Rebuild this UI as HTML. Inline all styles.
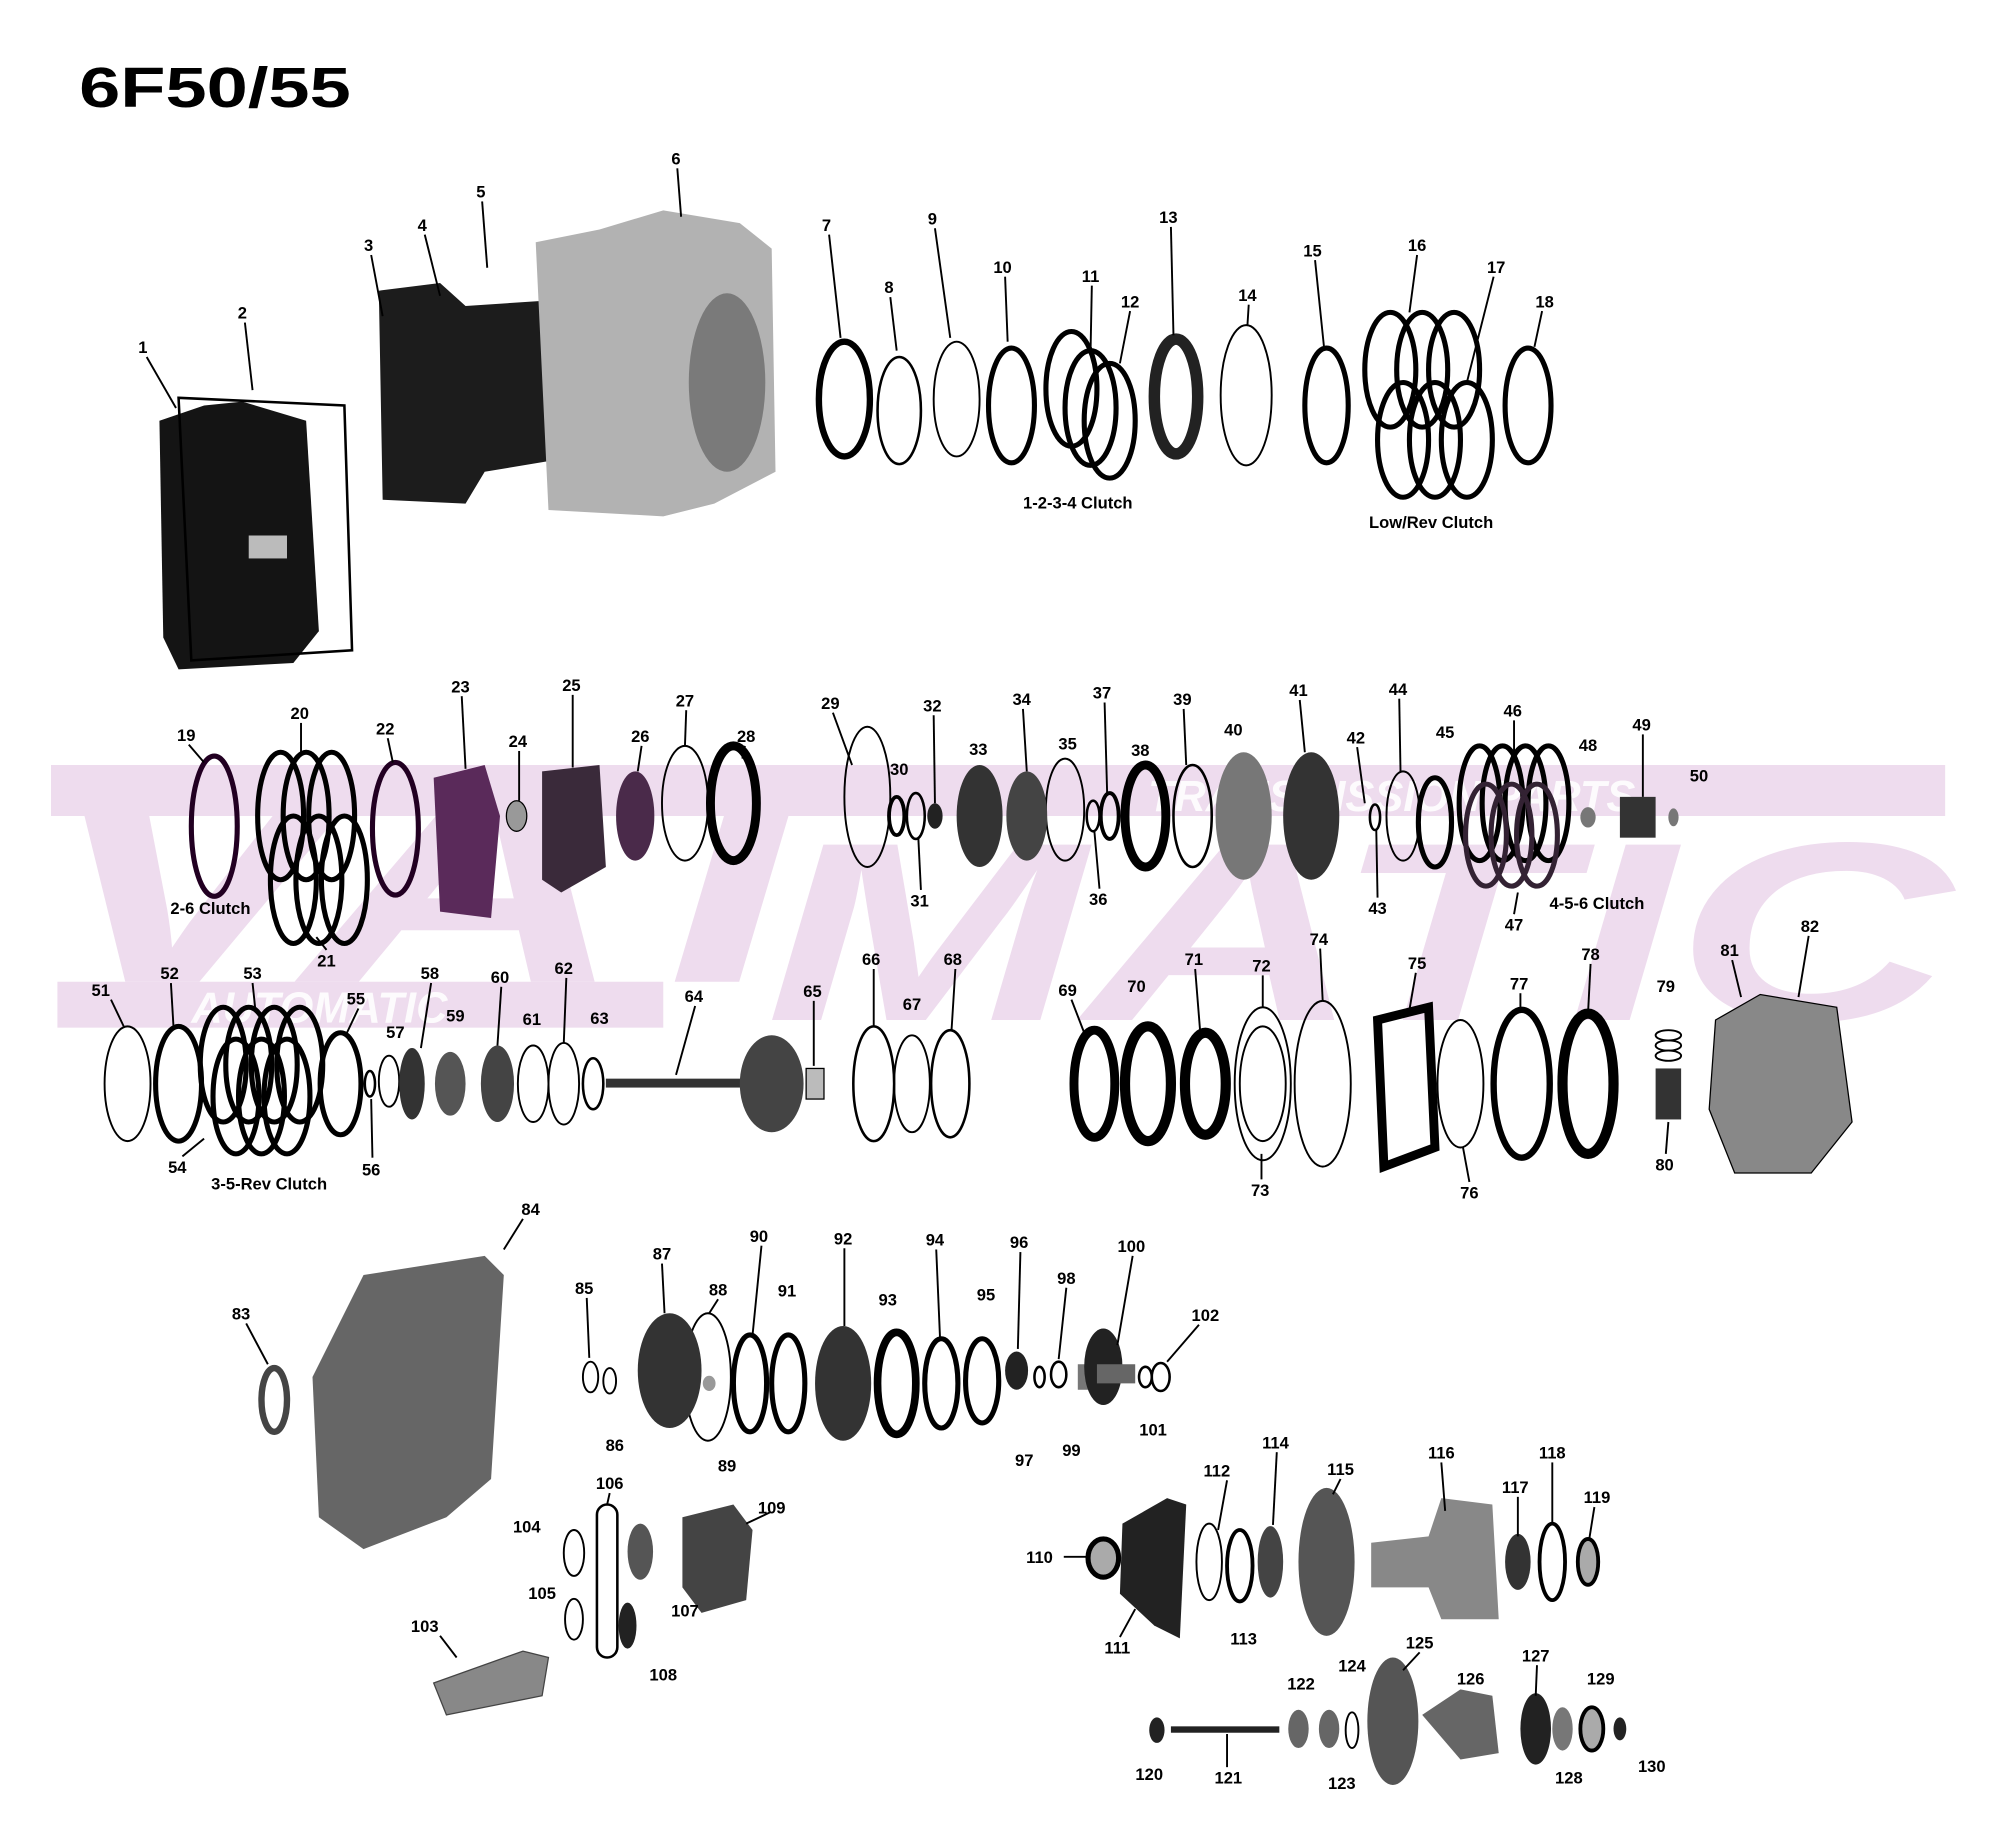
<!DOCTYPE html>
<html><head><meta charset="utf-8"><style>
html,body{margin:0;padding:0;background:#fff;}
svg{display:block;}
text{font-family:"Liberation Sans",Arial,sans-serif;font-weight:bold;}
.l{font-size:13px;fill:#000;text-anchor:middle;}
.r{fill:none;stroke:#000;}
</style></head><body>
<svg width="2000" height="1836" viewBox="0 0 1568 1440" preserveAspectRatio="none" xmlns="http://www.w3.org/2000/svg">
<rect width="1568" height="1440" fill="#fff"/>
<!-- watermark -->
<g fill="#eedcee">
<rect x="40" y="600" width="1485" height="40"/>
<rect x="45" y="770" width="475" height="36"/>
<text x="30" y="770" font-size="230" font-style="italic" textLength="650" lengthAdjust="spacingAndGlyphs">VAT</text>
<text x="600" y="800" font-size="200" font-style="italic" textLength="930" lengthAdjust="spacingAndGlyphs">MATIC</text>
</g>
<g fill="#fff" opacity="0.9"><text x="900" y="636" font-size="34" font-style="italic">TRANSMISSION PARTS</text>
<text x="150" y="802" font-size="34" font-style="italic">AUTOMATIC</text></g>

<text x="62" y="84" font-size="44" fill="#000" textLength="213" lengthAdjust="spacingAndGlyphs">6F50/55</text>

<!-- Row 1 parts -->
<polygon points="125,330 160,318 190,315 240,330 250,495 230,520 140,525 128,500" fill="#141414"/>
<rect x="195" y="420" width="30" height="18" fill="#bbb"/>
<path d="M140,312 L270,318 L276,510 L150,518 Z" fill="none" stroke="#000" stroke-width="2"/>
<polygon points="297,228 345,222 365,240 440,235 440,360 380,370 365,395 300,392" fill="#1c1c1c"/>
<polygon points="420,190 470,180 520,165 580,175 605,195 608,370 560,395 520,405 430,400" fill="#b2b2b2"/>
<ellipse cx="570" cy="300" rx="30" ry="70" fill="#7a7a7a"/>
<g class="r">
<ellipse cx="662" cy="313" rx="20" ry="45" stroke-width="5"/>
<ellipse cx="705" cy="322" rx="17" ry="42" stroke-width="2"/>
<ellipse cx="750" cy="313" rx="18" ry="45" stroke-width="1.5"/>
<ellipse cx="793" cy="318" rx="18" ry="45" stroke-width="4"/>
<ellipse cx="840" cy="305" rx="20" ry="45" stroke-width="4"/>
<ellipse cx="855" cy="320" rx="20" ry="45" stroke-width="4"/>
<ellipse cx="870" cy="330" rx="20" ry="45" stroke-width="4"/>
<ellipse cx="922" cy="311" rx="17" ry="45" stroke-width="9" stroke="#222"/>
<ellipse cx="977" cy="310" rx="20" ry="55" stroke-width="1.5"/>
<ellipse cx="1040" cy="318" rx="17" ry="45" stroke-width="4"/>
<ellipse cx="1090" cy="290" rx="20" ry="45" stroke-width="4"/>
<ellipse cx="1115" cy="290" rx="20" ry="45" stroke-width="4"/>
<ellipse cx="1140" cy="290" rx="20" ry="45" stroke-width="4"/>
<ellipse cx="1100" cy="345" rx="20" ry="45" stroke-width="4"/>
<ellipse cx="1125" cy="345" rx="20" ry="45" stroke-width="4"/>
<ellipse cx="1150" cy="345" rx="20" ry="45" stroke-width="4"/>
<ellipse cx="1198" cy="318" rx="18" ry="45" stroke-width="4"/>
</g>
<text x="845" y="399" font-size="13" text-anchor="middle">1-2-3-4 Clutch</text>
<text x="1122" y="414" font-size="13" text-anchor="middle">Low/Rev Clutch</text>

<!-- Row 2 -->
<g class="r">
<ellipse cx="168" cy="648" rx="18" ry="55" stroke-width="4" stroke="#202"/>
<ellipse cx="220" cy="640" rx="18" ry="50" stroke-width="4"/>
<ellipse cx="240" cy="640" rx="18" ry="50" stroke-width="4"/>
<ellipse cx="260" cy="640" rx="18" ry="50" stroke-width="4"/>
<ellipse cx="230" cy="690" rx="18" ry="50" stroke-width="4"/>
<ellipse cx="250" cy="690" rx="18" ry="50" stroke-width="4"/>
<ellipse cx="270" cy="690" rx="18" ry="50" stroke-width="4"/>
<ellipse cx="310" cy="650" rx="18" ry="52" stroke-width="4" stroke="#202"/>
<ellipse cx="537" cy="630" rx="18" ry="45" stroke-width="1.5"/>
<ellipse cx="575" cy="630" rx="18" ry="45" stroke-width="7"/>
<ellipse cx="680" cy="625" rx="18" ry="55" stroke-width="1.5"/>
<ellipse cx="703" cy="640" rx="6" ry="15" stroke-width="3"/>
<ellipse cx="718" cy="640" rx="7" ry="18" stroke-width="2"/>
<ellipse cx="835" cy="635" rx="15" ry="40" stroke-width="1.5"/>
<ellipse cx="857" cy="640" rx="5" ry="12" stroke-width="2"/>
<ellipse cx="870" cy="640" rx="7" ry="18" stroke-width="3"/>
<ellipse cx="898" cy="640" rx="16" ry="40" stroke-width="7"/>
<ellipse cx="935" cy="640" rx="15" ry="40" stroke-width="2"/>
<ellipse cx="1078" cy="641" rx="4" ry="10" stroke-width="2"/>
<ellipse cx="1100" cy="640" rx="13" ry="35" stroke-width="1.5"/>
<ellipse cx="1125" cy="645" rx="13" ry="35" stroke-width="4"/>
<ellipse cx="1160" cy="630" rx="16" ry="45" stroke-width="4"/>
<ellipse cx="1178" cy="630" rx="16" ry="45" stroke-width="4"/>
<ellipse cx="1196" cy="630" rx="16" ry="45" stroke-width="4"/>
<ellipse cx="1214" cy="630" rx="16" ry="45" stroke-width="4"/>
<ellipse cx="1165" cy="655" rx="16" ry="40" stroke-width="4" stroke="#323"/>
<ellipse cx="1185" cy="655" rx="16" ry="40" stroke-width="4" stroke="#323"/>
<ellipse cx="1205" cy="655" rx="16" ry="40" stroke-width="4" stroke="#323"/>
</g>
<path d="M340,610 L380,600 L392,640 L385,720 L345,715 Z" fill="#5a2a5a"/>
<ellipse cx="405" cy="640" rx="8" ry="12" fill="#999" stroke="#000"/>
<path d="M425,605 L470,600 L475,680 L440,700 L425,690 Z" fill="#3a2a3a"/>
<ellipse cx="498" cy="640" rx="15" ry="35" fill="#4a2a4a"/>
<ellipse cx="733" cy="640" rx="6" ry="10" fill="#222"/>
<ellipse cx="768" cy="640" rx="18" ry="40" fill="#333"/>
<ellipse cx="805" cy="640" rx="16" ry="35" fill="#444"/>
<ellipse cx="975" cy="640" rx="22" ry="50" fill="#777"/>
<ellipse cx="1028" cy="640" rx="22" ry="50" fill="#333"/>
<ellipse cx="1245" cy="641" rx="6" ry="8" fill="#777"/>
<rect x="1270" y="625" width="28" height="32" fill="#333"/>
<ellipse cx="1312" cy="641" rx="4" ry="7" fill="#777"/>
<text x="165" y="717" font-size="13" text-anchor="middle">2-6 Clutch</text>
<text x="1252" y="713" font-size="13" text-anchor="middle">4-5-6 Clutch</text>

<!-- Row 3 -->
<g class="r">
<ellipse cx="100" cy="850" rx="18" ry="45" stroke-width="1.5"/>
<ellipse cx="140" cy="850" rx="18" ry="45" stroke-width="4"/>
<ellipse cx="175" cy="835" rx="18" ry="45" stroke-width="4"/>
<ellipse cx="195" cy="835" rx="18" ry="45" stroke-width="4"/>
<ellipse cx="215" cy="835" rx="18" ry="45" stroke-width="4"/>
<ellipse cx="235" cy="835" rx="18" ry="45" stroke-width="4"/>
<ellipse cx="185" cy="860" rx="18" ry="45" stroke-width="4"/>
<ellipse cx="205" cy="860" rx="18" ry="45" stroke-width="4"/>
<ellipse cx="225" cy="860" rx="18" ry="45" stroke-width="4"/>
<ellipse cx="267" cy="850" rx="16" ry="40" stroke-width="4"/>
<ellipse cx="290" cy="850" rx="4" ry="10" stroke-width="2"/>
<ellipse cx="305" cy="848" rx="8" ry="20" stroke-width="1.5"/>
<ellipse cx="418" cy="850" rx="12" ry="30" stroke-width="1.5"/>
<ellipse cx="442" cy="850" rx="12" ry="32" stroke-width="1.5"/>
<ellipse cx="465" cy="850" rx="8" ry="20" stroke-width="2"/>
<ellipse cx="685" cy="850" rx="16" ry="45" stroke-width="2"/>
<ellipse cx="715" cy="850" rx="14" ry="38" stroke-width="1.5"/>
<ellipse cx="745" cy="850" rx="15" ry="42" stroke-width="2"/>
<ellipse cx="858" cy="850" rx="16" ry="42" stroke-width="7"/>
<ellipse cx="900" cy="850" rx="18" ry="45" stroke-width="8"/>
<ellipse cx="945" cy="850" rx="16" ry="40" stroke-width="8"/>
<ellipse cx="990" cy="850" rx="22" ry="60" stroke-width="1.5"/>
<ellipse cx="990" cy="850" rx="18" ry="45" stroke-width="1.5"/>
<ellipse cx="1037" cy="850" rx="22" ry="65" stroke-width="1.5"/>
<ellipse cx="1145" cy="850" rx="18" ry="50" stroke-width="1.5"/>
<ellipse cx="1193" cy="850" rx="22" ry="58" stroke-width="5"/>
<ellipse cx="1245" cy="850" rx="20" ry="55" stroke-width="8"/>
<ellipse cx="1308" cy="812" rx="10" ry="4" stroke-width="1.5"/>
<ellipse cx="1308" cy="820" rx="10" ry="4" stroke-width="1.5"/>
<ellipse cx="1308" cy="828" rx="10" ry="4" stroke-width="1.5"/>
</g>
<ellipse cx="323" cy="850" rx="10" ry="28" fill="#333"/>
<ellipse cx="353" cy="850" rx="12" ry="25" fill="#555"/>
<ellipse cx="390" cy="850" rx="13" ry="30" fill="#444"/>
<rect x="475" y="846" width="110" height="7" fill="#333"/>
<ellipse cx="605" cy="850" rx="25" ry="38" fill="#444"/>
<rect x="632" y="838" width="14" height="24" fill="#bbb" stroke="#000"/>
<path d="M1080,800 L1120,790 L1125,900 L1085,915 Z" fill="none" stroke="#000" stroke-width="7"/>
<rect x="1298" y="838" width="20" height="40" fill="#333"/>
<polygon points="1345,800 1380,780 1440,790 1452,880 1420,920 1360,920 1340,870" fill="#888" stroke="#000"/>
<text x="211" y="933" font-size="13" text-anchor="middle">3-5-Rev Clutch</text>

<!-- Row 4 -->
<ellipse cx="215" cy="1098" rx="10" ry="25" fill="none" stroke="#444" stroke-width="5"/>
<polygon points="285,1000 380,985 395,1000 385,1160 350,1190 285,1215 250,1190 245,1080" fill="#666"/>
<g class="r">
<ellipse cx="463" cy="1080" rx="6" ry="12" stroke-width="1.5"/>
<ellipse cx="478" cy="1083" rx="5" ry="10" stroke-width="1.5"/>
<ellipse cx="555" cy="1080" rx="18" ry="50" stroke-width="1.5"/>
<ellipse cx="588" cy="1085" rx="13" ry="38" stroke-width="4"/>
<ellipse cx="618" cy="1085" rx="13" ry="38" stroke-width="4"/>
<ellipse cx="703" cy="1085" rx="15" ry="40" stroke-width="6"/>
<ellipse cx="738" cy="1085" rx="13" ry="35" stroke-width="4"/>
<ellipse cx="770" cy="1083" rx="13" ry="33" stroke-width="4"/>
<ellipse cx="815" cy="1080" rx="4" ry="8" stroke-width="2"/>
<ellipse cx="830" cy="1078" rx="6" ry="10" stroke-width="2"/>
<ellipse cx="898" cy="1080" rx="5" ry="8" stroke-width="2"/>
<ellipse cx="910" cy="1080" rx="7" ry="11" stroke-width="2"/>
<ellipse cx="450" cy="1218" rx="8" ry="18" stroke-width="1.5"/>
<ellipse cx="450" cy="1270" rx="7" ry="16" stroke-width="1.5"/>
<rect x="468" y="1180" width="16" height="120" rx="8" stroke-width="2"/>
<ellipse cx="948" cy="1225" rx="10" ry="30" stroke-width="1.5"/>
<ellipse cx="972" cy="1228" rx="10" ry="28" stroke-width="3"/>
<ellipse cx="1217" cy="1225" rx="10" ry="30" stroke-width="3"/>
<ellipse cx="1060" cy="1357" rx="5" ry="14" stroke-width="1.5"/>
</g>
<ellipse cx="525" cy="1075" rx="25" ry="45" fill="#333"/>
<ellipse cx="556" cy="1085" rx="5" ry="6" fill="#999"/>
<ellipse cx="661" cy="1085" rx="22" ry="45" fill="#333"/>
<ellipse cx="797" cy="1075" rx="9" ry="15" fill="#222"/>
<rect x="845" y="1070" width="15" height="20" fill="#777"/>
<ellipse cx="865" cy="1072" rx="15" ry="30" fill="#222"/>
<rect x="860" y="1070" width="30" height="15" fill="#666"/>
<ellipse cx="502" cy="1217" rx="10" ry="22" fill="#555"/>
<ellipse cx="492" cy="1275" rx="7" ry="18" fill="#222"/>
<polygon points="535,1190 575,1180 590,1200 585,1255 550,1265 535,1245" fill="#444"/>
<polygon points="340,1320 410,1295 430,1300 425,1330 350,1345" fill="#888" stroke="#444"/>
<ellipse cx="865" cy="1222" rx="12" ry="15" fill="#aaa" stroke="#000" stroke-width="4"/>
<polygon points="880,1195 915,1175 930,1180 925,1285 905,1275 878,1250" fill="#222"/>
<ellipse cx="996" cy="1225" rx="10" ry="28" fill="#444"/>
<ellipse cx="1040" cy="1225" rx="22" ry="58" fill="#555"/>
<polygon points="1075,1210 1120,1205 1130,1175 1170,1180 1175,1270 1130,1270 1120,1245 1075,1245" fill="#888"/>
<ellipse cx="1190" cy="1225" rx="10" ry="22" fill="#333"/>
<ellipse cx="1245" cy="1225" rx="8" ry="18" fill="#aaa" stroke="#000" stroke-width="3"/>
<ellipse cx="907" cy="1357" rx="6" ry="10" fill="#222"/>
<rect x="918" y="1354" width="85" height="5" fill="#222"/>
<ellipse cx="1018" cy="1356" rx="8" ry="15" fill="#666"/>
<ellipse cx="1042" cy="1356" rx="8" ry="15" fill="#666"/>
<ellipse cx="1092" cy="1350" rx="20" ry="50" fill="#555"/>
<polygon points="1115,1345 1145,1325 1170,1330 1175,1375 1145,1380" fill="#666"/>
<ellipse cx="1204" cy="1356" rx="12" ry="28" fill="#222"/>
<ellipse cx="1225" cy="1356" rx="8" ry="17" fill="#777"/>
<ellipse cx="1248" cy="1356" rx="9" ry="17" fill="#aaa" stroke="#000" stroke-width="3"/>
<ellipse cx="1270" cy="1356" rx="5" ry="9" fill="#222"/>

<!-- leader lines -->
<g stroke="#000" stroke-width="1.5">
<line x1="115" y1="280" x2="138" y2="320"/><line x1="192" y1="253" x2="198" y2="306"/>
<line x1="291" y1="200" x2="300" y2="248"/><line x1="333" y1="184" x2="345" y2="232"/>
<line x1="378" y1="158" x2="382" y2="210"/><line x1="531" y1="132" x2="534" y2="170"/>
<line x1="650" y1="184" x2="659" y2="265"/><line x1="698" y1="233" x2="703" y2="275"/>
<line x1="733" y1="179" x2="745" y2="265"/><line x1="788" y1="217" x2="790" y2="268"/>
<line x1="856" y1="224" x2="855" y2="275"/><line x1="886" y1="244" x2="878" y2="285"/>
<line x1="918" y1="178" x2="920" y2="263"/><line x1="979" y1="239" x2="978" y2="255"/>
<line x1="1031" y1="204" x2="1038" y2="272"/><line x1="1111" y1="200" x2="1105" y2="245"/>
<line x1="1171" y1="217" x2="1150" y2="300"/><line x1="1209" y1="244" x2="1203" y2="272"/>
<line x1="148" y1="584" x2="160" y2="598"/><line x1="236" y1="567" x2="236" y2="590"/>
<line x1="256" y1="745" x2="248" y2="735"/><line x1="304" y1="579" x2="308" y2="598"/>
<line x1="362" y1="546" x2="365" y2="603"/><line x1="407" y1="589" x2="407" y2="628"/>
<line x1="449" y1="545" x2="449" y2="602"/><line x1="503" y1="585" x2="500" y2="605"/>
<line x1="538" y1="557" x2="537" y2="585"/><line x1="584" y1="585" x2="582" y2="595"/>
<line x1="653" y1="559" x2="668" y2="600"/><line x1="732" y1="561" x2="733" y2="630"/>
<line x1="802" y1="556" x2="805" y2="605"/><line x1="866" y1="551" x2="868" y2="622"/>
<line x1="928" y1="556" x2="930" y2="600"/><line x1="1019" y1="549" x2="1023" y2="590"/>
<line x1="1064" y1="586" x2="1070" y2="630"/><line x1="1097" y1="548" x2="1098" y2="605"/>
<line x1="1187" y1="565" x2="1187" y2="590"/><line x1="1288" y1="576" x2="1288" y2="625"/>
<line x1="87" y1="784" x2="97" y2="805"/><line x1="134" y1="771" x2="136" y2="805"/>
<line x1="198" y1="771" x2="200" y2="790"/><line x1="281" y1="791" x2="272" y2="810"/>
<line x1="338" y1="771" x2="330" y2="822"/><line x1="393" y1="774" x2="390" y2="820"/>
<line x1="444" y1="767" x2="442" y2="818"/><line x1="545" y1="789" x2="530" y2="843"/>
<line x1="638" y1="785" x2="638" y2="836"/><line x1="685" y1="760" x2="685" y2="805"/>
<line x1="749" y1="760" x2="746" y2="808"/><line x1="840" y1="784" x2="850" y2="810"/>
<line x1="937" y1="760" x2="941" y2="810"/><line x1="990" y1="765" x2="990" y2="790"/>
<line x1="1035" y1="744" x2="1037" y2="785"/><line x1="1110" y1="763" x2="1105" y2="792"/>
<line x1="1192" y1="779" x2="1192" y2="792"/><line x1="1247" y1="756" x2="1245" y2="795"/>
<line x1="1358" y1="753" x2="1365" y2="782"/><line x1="1418" y1="734" x2="1410" y2="782"/>
<line x1="989" y1="925" x2="989" y2="905"/><line x1="1152" y1="927" x2="1147" y2="900"/>
<line x1="1187" y1="717" x2="1190" y2="700"/><line x1="1080" y1="704" x2="1079" y2="651"/>
<line x1="722" y1="698" x2="720" y2="658"/><line x1="862" y1="697" x2="858" y2="652"/>
<line x1="143" y1="907" x2="160" y2="893"/><line x1="292" y1="908" x2="291" y2="862"/>
<line x1="1306" y1="905" x2="1308" y2="880"/>
<line x1="193" y1="1038" x2="210" y2="1070"/><line x1="410" y1="956" x2="395" y2="980"/>
<line x1="460" y1="1018" x2="462" y2="1065"/><line x1="519" y1="991" x2="521" y2="1030"/>
<line x1="563" y1="1019" x2="556" y2="1030"/><line x1="597" y1="977" x2="590" y2="1047"/>
<line x1="662" y1="979" x2="662" y2="1040"/><line x1="734" y1="980" x2="737" y2="1050"/>
<line x1="800" y1="982" x2="798" y2="1058"/><line x1="836" y1="1010" x2="830" y2="1066"/>
<line x1="888" y1="985" x2="876" y2="1055"/><line x1="940" y1="1039" x2="915" y2="1068"/>
<line x1="834" y1="1221" x2="852" y2="1221"/><line x1="962" y1="1161" x2="955" y2="1200"/>
<line x1="1001" y1="1139" x2="998" y2="1196"/><line x1="1051" y1="1160" x2="1045" y2="1172"/>
<line x1="1130" y1="1147" x2="1133" y2="1185"/><line x1="1190" y1="1174" x2="1190" y2="1205"/>
<line x1="1217" y1="1147" x2="1217" y2="1195"/><line x1="1250" y1="1182" x2="1246" y2="1207"/>
<line x1="962" y1="1386" x2="962" y2="1360"/><line x1="1113" y1="1296" x2="1100" y2="1310"/>
<line x1="1205" y1="1306" x2="1204" y2="1330"/><line x1="345" y1="1283" x2="358" y2="1300"/>
<line x1="478" y1="1171" x2="476" y2="1180"/><line x1="604" y1="1186" x2="585" y2="1195"/>
<line x1="878" y1="1284" x2="890" y2="1262"/>
</g>

<!-- labels -->
<g class="l">
<text x="112" y="277">1</text><text x="190" y="250">2</text><text x="289" y="197">3</text><text x="331" y="181">4</text><text x="377" y="155">5</text><text x="530" y="129">6</text>
<text x="648" y="181">7</text><text x="697" y="230">8</text><text x="731" y="176">9</text><text x="786" y="214">10</text><text x="855" y="221">11</text><text x="886" y="241">12</text><text x="916" y="175">13</text><text x="978" y="236">14</text><text x="1029" y="201">15</text><text x="1111" y="197">16</text><text x="1173" y="214">17</text><text x="1211" y="241">18</text>
<text x="146" y="581">19</text><text x="235" y="564">20</text><text x="256" y="758">21</text><text x="302" y="576">22</text><text x="361" y="543">23</text><text x="406" y="586">24</text><text x="448" y="542">25</text><text x="502" y="582">26</text><text x="537" y="554">27</text><text x="585" y="582">28</text><text x="651" y="556">29</text><text x="705" y="608">30</text><text x="721" y="711">31</text><text x="731" y="558">32</text><text x="767" y="592">33</text><text x="801" y="553">34</text><text x="837" y="588">35</text><text x="861" y="710">36</text><text x="864" y="548">37</text><text x="894" y="593">38</text><text x="927" y="553">39</text><text x="967" y="577">40</text><text x="1018" y="546">41</text><text x="1063" y="583">42</text><text x="1080" y="717">43</text><text x="1096" y="545">44</text><text x="1133" y="579">45</text><text x="1186" y="562">46</text><text x="1187" y="730">47</text><text x="1245" y="589">48</text><text x="1287" y="573">49</text><text x="1332" y="613">50</text>
<text x="79" y="781">51</text><text x="133" y="768">52</text><text x="198" y="768">53</text><text x="139" y="920">54</text><text x="279" y="788">55</text><text x="291" y="922">56</text><text x="310" y="814">57</text><text x="337" y="768">58</text><text x="357" y="801">59</text><text x="392" y="771">60</text><text x="417" y="804">61</text><text x="442" y="764">62</text><text x="470" y="803">63</text><text x="544" y="786">64</text><text x="637" y="782">65</text><text x="683" y="757">66</text><text x="715" y="792">67</text><text x="747" y="757">68</text><text x="837" y="781">69</text><text x="891" y="778">70</text><text x="936" y="757">71</text><text x="989" y="762">72</text><text x="988" y="938">73</text><text x="1034" y="741">74</text><text x="1111" y="760">75</text><text x="1152" y="940">76</text><text x="1191" y="776">77</text><text x="1247" y="753">78</text><text x="1306" y="778">79</text><text x="1305" y="918">80</text><text x="1356" y="750">81</text><text x="1419" y="731">82</text>
<text x="189" y="1035">83</text><text x="416" y="953">84</text><text x="458" y="1015">85</text><text x="482" y="1138">86</text><text x="519" y="988">87</text><text x="563" y="1016">88</text><text x="570" y="1154">89</text><text x="595" y="974">90</text><text x="617" y="1017">91</text><text x="661" y="976">92</text><text x="696" y="1024">93</text><text x="733" y="977">94</text><text x="773" y="1020">95</text><text x="799" y="979">96</text><text x="803" y="1150">97</text><text x="836" y="1007">98</text><text x="840" y="1142">99</text><text x="887" y="982">100</text><text x="904" y="1126">101</text><text x="945" y="1036">102</text>
<text x="333" y="1280">103</text><text x="413" y="1202">104</text><text x="425" y="1254">105</text><text x="478" y="1168">106</text><text x="537" y="1268">107</text><text x="520" y="1318">108</text><text x="605" y="1187">109</text><text x="815" y="1226">110</text><text x="876" y="1297">111</text><text x="954" y="1158">112</text><text x="975" y="1290">113</text><text x="1000" y="1136">114</text><text x="1051" y="1157">115</text><text x="1130" y="1144">116</text><text x="1188" y="1171">117</text><text x="1217" y="1144">118</text><text x="1252" y="1179">119</text>
<text x="901" y="1396">120</text><text x="963" y="1399">121</text><text x="1020" y="1325">122</text><text x="1052" y="1403">123</text><text x="1060" y="1311">124</text><text x="1113" y="1293">125</text><text x="1153" y="1321">126</text><text x="1204" y="1303">127</text><text x="1230" y="1399">128</text><text x="1255" y="1321">129</text><text x="1295" y="1390">130</text>
</g>
</svg>
</body></html>
